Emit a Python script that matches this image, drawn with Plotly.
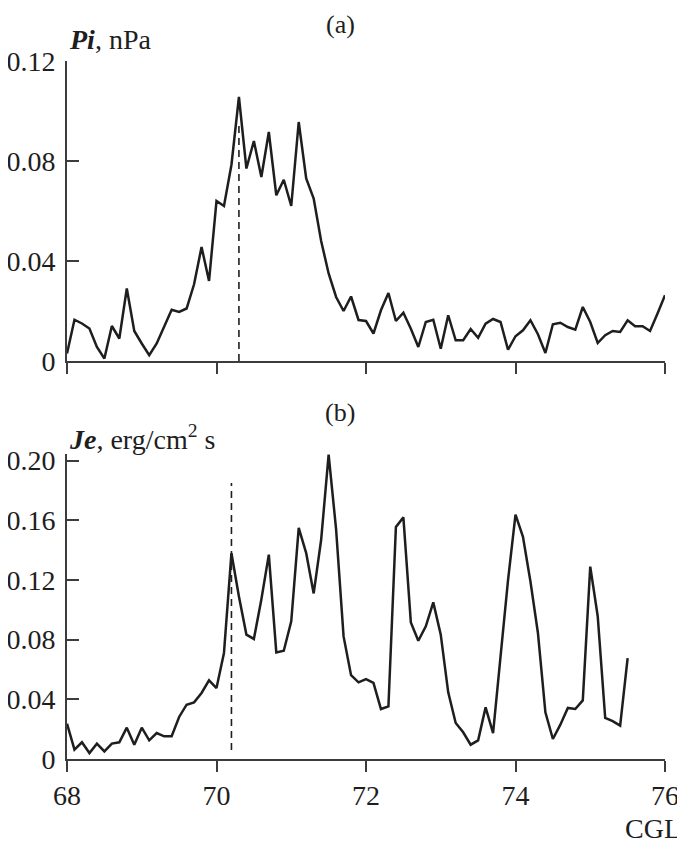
import numpy as np
import plotly.graph_objects as go

# CGL sampling grid (0.1 step)
cgl_a = np.round(np.arange(68.0, 76.01, 0.1), 1)
cgl_b = np.round(np.arange(68.0, 75.51, 0.1), 1)

# panel (a): Pi, nPa
pi_vals = [
    0.003, 0.0165, 0.015, 0.013, 0.0056, 0.001, 0.014, 0.009, 0.029, 0.012,
    0.007, 0.0023, 0.007, 0.014, 0.0205, 0.0196, 0.021, 0.0307, 0.0456, 0.032,
    0.064, 0.062, 0.0785, 0.1056, 0.077, 0.088, 0.0736, 0.0916, 0.0663, 0.0725,
    0.062, 0.0956, 0.073, 0.065, 0.048, 0.035, 0.0256, 0.020, 0.0258, 0.0164,
    0.016, 0.011, 0.0203, 0.0272, 0.016, 0.0193, 0.0129, 0.0056, 0.0156, 0.0165,
    0.0049, 0.0183, 0.0083, 0.0083, 0.0128, 0.0093, 0.0149, 0.0168, 0.0156, 0.0045,
    0.0099, 0.0123, 0.0163, 0.0107, 0.0032, 0.0147, 0.0153, 0.0136, 0.0125, 0.0216,
    0.0156, 0.0072, 0.0103, 0.012, 0.0116, 0.0163, 0.0139, 0.0139, 0.012, 0.019,
    0.0263,
]

# panel (b): Je, erg/cm2 s
je_vals = [
    0.0237, 0.0063, 0.0112, 0.004, 0.0103, 0.0051, 0.0103, 0.0112, 0.021, 0.0096,
    0.021, 0.0125, 0.0174, 0.0152, 0.0152, 0.0282, 0.0364, 0.038, 0.0443, 0.0527,
    0.0476, 0.0711, 0.138, 0.109, 0.0834, 0.0805, 0.107, 0.137, 0.0715, 0.0726,
    0.0923, 0.155, 0.138, 0.111, 0.147, 0.204, 0.154, 0.0822, 0.0562, 0.0514,
    0.0536, 0.051, 0.0335, 0.0353, 0.1556, 0.162, 0.0916, 0.0793, 0.089, 0.105,
    0.0834, 0.0447, 0.0241, 0.0179, 0.0096, 0.0125, 0.0346, 0.0174, 0.0688, 0.120,
    0.1638, 0.1489, 0.119, 0.0845, 0.0313, 0.0134, 0.023, 0.0342, 0.0335, 0.0393,
    0.129, 0.0957, 0.0275, 0.0254, 0.0224, 0.0677,
]

# dashed markers
dash_a_x, dash_a_y = 70.3, [0, 0.095]
dash_b_x, dash_b_y = 70.2, [0.006, 0.185]

x_ticks = [68, 70, 72, 74, 76]
y_ticks_a = [0, 0.04, 0.08, 0.12]
y_ticks_a_text = ['0', '0.04', '0.08', '0.12']
y_ticks_b = [0, 0.04, 0.08, 0.12, 0.16, 0.20]
y_ticks_b_text = ['0', '0.04', '0.08', '0.12', '0.16', '0.20']

FONT = 'Liberation Serif'
INK = '#1e1e1e'
AX = '#3c3c3c'

fig = go.Figure()
fig.add_trace(go.Scatter(x=cgl_a, y=pi_vals, mode='lines', line=dict(color=INK, width=2.5),
                         xaxis='x', yaxis='y', showlegend=False))
fig.add_trace(go.Scatter(x=[dash_a_x] * 2, y=dash_a_y, mode='lines',
                         line=dict(color=INK, width=1.6, dash='7px,5px'),
                         xaxis='x', yaxis='y', showlegend=False))
fig.add_trace(go.Scatter(x=cgl_b, y=je_vals, mode='lines', line=dict(color=INK, width=2.5),
                         xaxis='x2', yaxis='y2', showlegend=False))
fig.add_trace(go.Scatter(x=[dash_b_x] * 2, y=dash_b_y, mode='lines',
                         line=dict(color=INK, width=1.6, dash='7px,5px'),
                         xaxis='x2', yaxis='y2', showlegend=False))

xcommon = dict(range=[68, 76], tickvals=x_ticks, ticks='outside', ticklen=11, tickwidth=1.6,
               tickcolor=AX, showline=True, linecolor=AX, linewidth=1.6, showgrid=False,
               zeroline=False, automargin=False,
               tickfont=dict(family=FONT, size=28, color=INK))
ycommon = dict(ticks='inside', ticklen=12, tickwidth=1.6, tickcolor=AX, showline=True,
               linecolor=AX, linewidth=1.6, showgrid=False, zeroline=False, automargin=False,
               ticklabelstandoff=4, tickfont=dict(family=FONT, size=28, color=INK))

# page body has an 8px margin, so the figure is 8px smaller than the window
fig.update_layout(
    width=677, height=842,
    margin=dict(l=59, r=20, t=53, b=91),
    plot_bgcolor='white', paper_bgcolor='white',
    xaxis=dict(domain=[0, 1], anchor='y', showticklabels=False, **xcommon),
    yaxis=dict(domain=[0.5702, 1], anchor='x', range=[0, 0.12],
               tickvals=y_ticks_a, ticktext=y_ticks_a_text, **ycommon),
    xaxis2=dict(domain=[0, 1], anchor='y2', ticklabelstandoff=0, **xcommon),
    yaxis2=dict(domain=[0, 0.4370], anchor='x2', range=[0, 0.2045],
                tickvals=y_ticks_b, ticktext=y_ticks_b_text, **ycommon),
)

ann_font = dict(family=FONT, size=28, color=INK)
panel_font = dict(family=FONT, size=26, color=INK)
fig.add_annotation(text='(a)', x=0.457, y=1.053, xref='paper', yref='paper',
                   xanchor='center', yanchor='middle', showarrow=False, font=panel_font)
fig.add_annotation(text='(b)', x=0.457, y=0.497, xref='paper', yref='paper',
                   xanchor='center', yanchor='middle', showarrow=False, font=panel_font)
fig.add_annotation(text='<b><i>Pi</i></b>, nPa', x=0.0, y=1.0315, xref='paper', yref='paper',
                   xanchor='left', yanchor='middle', showarrow=False, font=ann_font)
fig.add_annotation(text='<b><i>Je</i></b>, erg/cm<sup>2</sup> s', x=0.0, y=0.4613,
                   xref='paper', yref='paper', xanchor='left', yanchor='middle',
                   showarrow=False, font=ann_font)
fig.add_annotation(text='CGL', x=1.03, y=-0.0989, xref='paper', yref='paper',
                   xanchor='right', yanchor='middle', showarrow=False, font=ann_font)

fig.write_html("out.html")
